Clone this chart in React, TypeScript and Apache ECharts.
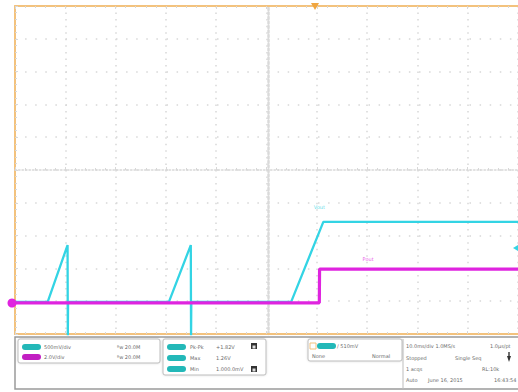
import { useEffect, useRef } from "react";
import * as echarts from "echarts";

// Time in divisions (10 ms/div), levels in vertical divisions
const ch1Time = [0, 0.65, 1.045, 1.05, 1.055, 3.06, 3.495, 3.5, 3.505, 5.49, 6.13, 10];
const ch1Level = [0.98, 0.98, 2.71, -0.1, 0.98, 0.98, 2.71, -0.1, 0.98, 0.98, 3.42, 3.42];
const ch2Time = [0, 6.05, 6.055, 10];
const ch2Level = [0.95, 0.95, 1.98, 1.98];
const traceLabels = ["Vout", "Pout"];
const labelPos = [[6.05, 3.88], [7.02, 2.28]];

const channelScales = ["500mV/div", "2.0V/div"];
const channelBw = ["ᴮw 20.0M", "ᴮw 20.0M"];
const measureNames = ["Pk-Pk", "Max", "Min"];
const measureValues = ["+1.82V", "1.26V", "1.000.0mV"];
const triggerTexts = ["510mV", "None", "Normal"];
const acqTexts = [
  ["10.0ms/div 1.0MS/s", "1.0μs/pt"],
  ["Stopped", "Single Seq"],
  ["1 acqs", "RL:10k"],
  ["Auto", "June 16, 2015", "16:43:54"],
];

const CYAN = "#33d4e4";
const MAGENTA = "#df24df";
const ORANGE = "#f3c27d";
const PILL_CYAN = "#23b8b8";
const GRIDC = "#d8d8d8";
const TXT = "#6a6a6a";

function pill(x: number, y: number, color: string) {
  return { type: "rect", shape: { x, y, width: 19, height: 6, r: 3 }, style: { fill: color } };
}
function txt(x: number, y: number, s: string, extra: any = {}) {
  return {
    type: "text",
    x,
    y,
    style: { text: s, fontSize: 5, fill: TXT, fontFamily: "DejaVu Sans", verticalAlign: "middle", ...extra },
  };
}
function box(x: number, y: number, w: number, h: number) {
  return {
    type: "rect",
    shape: { x, y, width: w, height: h, r: 2 },
    style: { fill: "#fff", stroke: "#bdbdbd", lineWidth: 1, shadowColor: "rgba(0,0,0,0.15)", shadowBlur: 2 },
  };
}
function icon(x: number, y: number) {
  return {
    type: "group",
    children: [
      { type: "rect", shape: { x, y, width: 6, height: 6 }, style: { fill: "#333" } },
      { type: "rect", shape: { x: x + 1.5, y: y + 2.5, width: 3, height: 3 }, style: { fill: "#ddd" } },
    ],
  };
}

export default function App() {
  const ref = useRef<HTMLDivElement>(null);
  useEffect(() => {
    if (!ref.current) return;
    const chart = echarts.init(ref.current, null, { renderer: "svg" });
    const ch1 = ch1Time.map((t, i) => [t, ch1Level[i]]);
    const ch2 = ch2Time.map((t, i) => [t, ch2Level[i]]);
    const hidden = { show: false };
    const graphic: any[] = [
      // bottom info panel
      { type: "rect", shape: { x: 15, y: 337, width: 510, height: 52 }, style: { fill: "none", stroke: "#9a9a9a", lineWidth: 1.5 } },
      box(18, 339, 142, 24),
      pill(22, 344, PILL_CYAN),
      pill(22, 354, "#c21fc2"),
      txt(44, 347, channelScales[0]),
      txt(44, 357, channelScales[1]),
      txt(117, 347, channelBw[0]),
      txt(117, 357, channelBw[1]),
      box(163, 339, 103, 36),
      ...measureNames.flatMap((n, i) => [
        pill(167, 344 + i * 11, PILL_CYAN),
        txt(190, 347 + i * 11, n),
        txt(216, 347 + i * 11, measureValues[i]),
      ]),
      icon(251, 343),
      icon(251, 366),
      box(308, 339, 94, 22),
      { type: "rect", shape: { x: 310, y: 343, width: 6, height: 6 }, style: { fill: "#fff", stroke: ORANGE, lineWidth: 1 } },
      pill(317, 343, PILL_CYAN),
      txt(337, 346, "/ " + triggerTexts[0]),
      txt(312, 356, triggerTexts[1]),
      txt(372, 356, triggerTexts[2]),
      { type: "line", shape: { x1: 403, y1: 339, x2: 403, y2: 389 }, style: { stroke: "#bdbdbd", lineWidth: 1 } },
      txt(406, 346, acqTexts[0][0]),
      txt(490, 346, acqTexts[0][1]),
      txt(406, 358, acqTexts[1][0]),
      txt(455, 358, acqTexts[1][1]),
      { type: "polygon", shape: { points: [[507, 356], [511, 356], [509, 362]] }, style: { fill: "#333" } },
      { type: "rect", shape: { x: 508.3, y: 352, width: 1.4, height: 5 }, style: { fill: "#333" } },
      txt(406, 369, acqTexts[2][0]),
      txt(482, 369, acqTexts[2][1]),
      txt(406, 380, acqTexts[3][0]),
      txt(428, 380, acqTexts[3][1]),
      txt(494, 380, acqTexts[3][2]),
      // markers
      { type: "circle", shape: { cx: 12, cy: 303, r: 4.5 }, style: { fill: MAGENTA }, z: 100 },
      { type: "polygon", shape: { points: [[311, 3], [319, 3], [315, 10]] }, style: { fill: "#f0a640" }, z: 100 },
      { type: "polygon", shape: { points: [[513, 248], [518, 245], [518, 251]] }, style: { fill: CYAN }, z: 100 },
    ];

    chart.setOption({
      animation: false,
      backgroundColor: "#ffffff",
      grid: { left: 15, top: 6, right: -3, bottom: 58, containLabel: false },
      xAxis: [
        {
          type: "value", min: 0, max: 10, interval: 1, position: "bottom",
          axisLine: { show: true, onZero: false, lineStyle: { color: ORANGE, width: 2 } },
          axisTick: { show: true, inside: true, length: 3, lineStyle: { color: GRIDC } },
          minorTick: { show: true, splitNumber: 5, length: 2, lineStyle: { color: GRIDC } },
          axisLabel: hidden,
          splitLine: { show: true, lineStyle: { color: GRIDC, width: 1.5, type: [1.5, 5.06] } },
        },
        {
          type: "value", min: 0, max: 10, interval: 1, position: "top",
          axisLine: { show: true, onZero: false, lineStyle: { color: ORANGE, width: 2 } },
          axisTick: { show: true, inside: true, length: 3, lineStyle: { color: GRIDC } },
          minorTick: { show: true, splitNumber: 5, length: 2, lineStyle: { color: GRIDC } },
          axisLabel: hidden, splitLine: hidden,
        },
        {
          type: "value", min: 0, max: 10, interval: 1, position: "bottom", offset: -164,
          axisLine: { show: true, onZero: false, lineStyle: { color: GRIDC, width: 1.5, type: [1.5, 2] } },
          axisTick: { show: true, inside: true, length: 3, lineStyle: { color: GRIDC } },
          minorTick: { show: true, splitNumber: 5, length: 2, lineStyle: { color: GRIDC } },
          axisLabel: hidden, splitLine: hidden,
        },
      ],
      yAxis: [
        {
          type: "value", min: 0, max: 10, interval: 1, position: "left",
          axisLine: { show: true, onZero: false, lineStyle: { color: ORANGE, width: 2 } },
          axisTick: { show: true, inside: true, length: 3, lineStyle: { color: GRIDC } },
          minorTick: { show: true, splitNumber: 5, length: 2, lineStyle: { color: GRIDC } },
          axisLabel: hidden,
          splitLine: { show: true, lineStyle: { color: GRIDC, width: 1.5, type: [1.5, 8.6] } },
        },
        {
          type: "value", min: 0, max: 10, interval: 1, position: "left", offset: -253,
          axisLine: { show: true, onZero: false, lineStyle: { color: "#dadada", width: 2.5, type: [2, 2.5] } },
          axisTick: hidden, axisLabel: hidden, splitLine: hidden,
        },
      ],
      series: [
        {
          type: "line", data: ch1, showSymbol: false, z: 3,
          lineStyle: { color: CYAN, width: 2.3 },
        },
        {
          type: "line", data: ch2, showSymbol: false, z: 4,
          lineStyle: { color: MAGENTA, width: 3.2 },
        },
        {
          type: "scatter", symbolSize: 0, z: 5,
          data: labelPos.map((p, i) => ({
            value: p,
            label: {
              show: true, formatter: traceLabels[i], fontSize: 5, position: "inside",
              color: i === 0 ? CYAN : MAGENTA, fontFamily: "DejaVu Sans",
            },
          })),
        },
      ],
      graphic,
    });
    return () => chart.dispose();
  }, []);
  return (
    <div
      ref={ref}
      style={{ position: "fixed", left: 0, top: 0, width: 518, height: 392, background: "#fff" }}
    />
  );
}
